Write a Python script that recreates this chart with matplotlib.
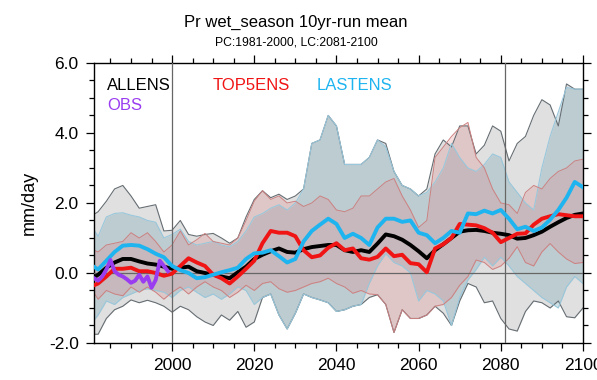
import numpy as np
import matplotlib
matplotlib.use("Agg")
import matplotlib.pyplot as plt
from matplotlib.ticker import MultipleLocator, FormatStrFormatter

plt.rcParams['font.family'] = ['Liberation Sans', 'DejaVu Sans']

# ---- data: 10-yr running mean precipitation anomaly (mm/day) ----
years = list(range(1980, 2101, 2))

allens_mean = [-0.2, -0.05, 0.15, 0.3, 0.4, 0.4, 0.33, 0.27, 0.24, 0.18,
               0.12, 0.15, 0.18, 0.05, 0.0, -0.05, -0.1, -0.15, 0.02, 0.18,
               0.4, 0.52, 0.62, 0.7, 0.6, 0.58, 0.68, 0.74, 0.77, 0.8,
               0.8, 0.65, 0.6, 0.65, 0.6, 0.84, 1.1, 1.05, 0.95, 0.8,
               0.62, 0.42, 0.65, 0.82, 1.0, 1.18, 1.22, 1.23, 1.2, 1.15,
               1.12, 1.08, 0.98, 1.0, 1.08, 1.18, 1.32, 1.45, 1.57, 1.66, 1.7]

top5ens_mean = [-0.4, -0.3, -0.1, 0.12, 0.12, 0.15, 0.05, 0.05, 0.0, -0.08,
                -0.02, 0.2, 0.42, 0.3, 0.2, -0.05, -0.15, -0.3, -0.1, 0.12,
                0.35, 0.85, 1.2, 1.15, 1.15, 1.05, 0.65, 0.45, 0.5, 0.72,
                0.85, 0.65, 0.7, 0.42, 0.38, 0.46, 0.7, 0.48, 0.52, 0.28,
                0.25, 0.02, 0.7, 0.82, 1.0, 1.4, 1.38, 1.36, 1.28, 1.15,
                0.88, 1.0, 1.12, 1.13, 1.38, 1.55, 1.62, 1.68, 1.65, 1.62, 1.62]

lastens_mean = [0.25, 0.1, 0.35, 0.6, 0.78, 0.8, 0.78, 0.68, 0.55, 0.45,
                0.2, 0.08, 0.0, -0.15, -0.12, -0.05, 0.02, 0.08, 0.15, 0.4,
                0.56, 0.58, 0.65, 0.48, 0.3, 0.4, 0.9, 1.2, 1.38, 1.55,
                1.4, 1.0, 1.12, 1.0, 0.8, 1.3, 1.55, 1.55, 1.46, 1.5,
                1.15, 1.08, 0.85, 1.0, 1.2, 1.15, 1.7, 1.68, 1.78, 1.7,
                1.8, 1.55, 1.25, 1.32, 1.2, 1.3, 1.52, 1.8, 2.15, 2.6, 2.45]

# ensemble spread (min / max)
allens_hi = [1.6, 1.75, 2.05, 2.4, 2.5, 2.2, 1.85, 1.9, 1.95, 1.2,
             1.22, 1.5, 1.1, 1.05, 1.1, 1.13, 1.0, 0.85, 1.0, 1.6,
             2.1, 2.35, 2.15, 2.25, 2.1, 2.2, 2.4, 3.7, 3.8, 4.5,
             4.2, 3.1, 3.1, 3.1, 3.3, 3.8, 3.7, 2.9, 2.5, 2.4,
             2.2, 2.4, 3.4, 3.8, 3.6, 4.2, 4.2, 3.4, 3.65, 4.2,
             4.05, 3.2, 3.7, 3.9, 4.5, 4.95, 4.8, 4.2, 5.4, 5.25, 5.25]
allens_lo = [-1.75, -1.75, -1.3, -1.05, -0.95, -0.77, -0.85, -0.78, -0.85, -0.95,
             -1.12, -0.95, -1.05, -1.25, -1.4, -1.5, -1.2, -1.35, -1.1, -1.55,
             -1.4, -0.7, -0.6, -1.2, -1.6, -1.15, -0.6, -0.7, -0.77, -0.85,
             -1.1, -1.05, -0.95, -0.9, -0.7, -0.62, -0.9, -1.7, -1.05, -1.3,
             -1.3, -1.2, -0.95, -1.15, -1.5, -0.8, -0.3, -0.4, -0.85, -0.8,
             -1.3, -1.6, -1.66, -1.1, -0.8, -0.85, -1.0, -0.8, -1.25, -1.28, -1.0]

top5ens_hi = [0.7, 0.6, 0.8, 0.85, 0.9, 1.15, 1.0, 1.15, 0.9, 0.6,
              0.8, 1.2, 0.8, 0.95, 1.13, 0.9, 0.85, 0.8, 1.0, 1.5,
              2.05, 2.35, 2.1, 2.2, 2.0, 2.05, 1.9, 2.0, 2.2, 2.1,
              1.8, 1.75, 1.85, 2.2, 2.2, 2.4, 2.6, 2.7, 2.2, 1.8,
              1.3, 1.5, 3.3, 3.6, 3.9, 4.15, 4.3, 3.3, 3.0, 2.4,
              2.0, 1.95, 1.7, 2.3, 2.5, 2.4, 2.7, 2.9, 3.0, 3.2, 3.25]
top5ens_lo = [-0.4, -0.75, -0.5, -0.6, -0.65, -0.4, -0.55, -0.4, -0.55, -0.75,
              -0.55, -0.4, -0.6, -0.4, -0.25, -0.4, -0.5, -0.7, -0.55, -0.35,
              -0.5, -0.3, -0.25, -0.45, -0.55, -0.5, -0.4, -0.3, -0.25, -0.15,
              -0.3, -0.4, -0.58, -0.5, -0.6, -0.62, -0.9, -1.7, -1.05, -1.3,
              -1.3, -1.2, -0.95, -0.9, -0.7, -0.35, -0.1, 0.37, 0.3, 0.1,
              0.2, 0.42, 0.75, 0.3, 0.2, 0.6, 0.84, 0.6, 0.4, 0.27, 0.3]

lastens_hi = [1.4, 1.05, 1.6, 1.7, 1.72, 1.65, 1.6, 1.5, 1.45, 1.0,
              1.1, 1.25, 0.9, 0.8, 0.85, 0.9, 0.8, 0.75, 0.9, 1.2,
              1.6, 1.7, 1.85, 1.95, 1.8, 2.0, 2.4, 3.7, 3.8, 4.5,
              4.2, 3.1, 3.1, 3.1, 3.3, 3.8, 3.6, 2.9, 2.5, 2.4,
              2.2, 2.3, 2.6, 3.0, 3.7, 3.3, 3.0, 2.9, 3.1, 3.4,
              3.3, 2.6, 2.3, 2.0, 1.8, 3.0, 3.9, 4.6, 5.3, 5.25, 5.25]
lastens_lo = [-1.5, -1.2, -0.8, -0.9, -0.7, -0.6, -0.5, -0.45, -0.5, -0.55,
              -0.7, -0.5, -0.4, -0.55, -0.7, -0.6, -0.75, -0.6, -0.4, -0.5,
              -0.9, -0.7, -0.6, -1.2, -1.6, -1.15, -0.6, -0.7, -0.77, -0.85,
              -1.1, -1.05, -0.95, -0.9, -0.3, 0.2, 0.55, 0.3, 0.2, 0.0,
              -0.8, -0.5, -0.6, -0.8, -1.5, -0.7, -0.2, 0.1, 0.45, 0.2,
              0.45, 0.2, -0.1, -0.3, -0.5, -0.7, -0.85, -1.0, -0.4, -0.1, -0.3]

obs_years = list(range(1981, 2000))
obs = [-0.15, -0.22, -0.1, 0.1, 0.37, 0.05, -0.05, -0.1, -0.18, -0.28,
       -0.22, -0.05, -0.25, -0.1, -0.42, -0.2, 0.35, 0.2, 0.05]

present_start, late_start = 2000, 2081

# ---- figure ----
fig = plt.figure(figsize=(5.97, 3.80), dpi=100)
ax = fig.add_axes([0.1575, 0.0974, 0.819, 0.737])

# spread envelopes
ax.fill_between(years, allens_lo, allens_hi, color=(0.6, 0.6, 0.6), alpha=0.30, lw=0)
ax.plot(years, allens_hi, color=(0.40, 0.43, 0.45), lw=0.8)
ax.plot(years, allens_lo, color=(0.40, 0.43, 0.45), lw=0.8)

ax.fill_between(years, lastens_lo, lastens_hi, color=(0.43, 0.63, 0.69), alpha=0.30, lw=0)
ax.plot(years, lastens_hi, color=(0.60, 0.78, 0.86), lw=0.8)
ax.plot(years, lastens_lo, color=(0.60, 0.78, 0.86), lw=0.8)

ax.fill_between(years, top5ens_lo, top5ens_hi, color=(0.89, 0.50, 0.50), alpha=0.25, lw=0)
ax.plot(years, top5ens_hi, color=(0.80, 0.50, 0.50), lw=0.7)
ax.plot(years, top5ens_lo, color=(0.80, 0.50, 0.50), lw=0.7)

# reference lines
ax.axhline(0, color=(0.4, 0.4, 0.4), lw=0.9, zorder=3)
for yr in (present_start, late_start):
    ax.axvline(yr, color=(0.4, 0.4, 0.4), lw=0.9, zorder=3)

# ensemble means and observations
ax.plot(years, allens_mean, color='black', lw=2.8, zorder=5)
ax.plot(years, top5ens_mean, color='#f01414', lw=2.8, zorder=5)
ax.plot(years, lastens_mean, color='#1eb4f0', lw=2.8, zorder=5)
ax.plot(obs_years, obs, color='#9a3cf0', lw=2.8, zorder=6)

ax.set_xlim(1981, 2100)
ax.set_ylim(-2.0, 6.0)
ax.xaxis.set_major_locator(MultipleLocator(20))
ax.xaxis.set_minor_locator(MultipleLocator(5))
ax.yaxis.set_major_locator(MultipleLocator(2))
ax.yaxis.set_minor_locator(MultipleLocator(0.5))
ax.yaxis.set_major_formatter(FormatStrFormatter('%.1f'))
ax.tick_params(which='both', direction='out', top=True, right=True, width=0.9)
ax.tick_params(which='major', length=6, labelsize=12.5, pad=5)
ax.tick_params(which='minor', length=3.5)
for s in ax.spines.values():
    s.set_linewidth(1.0)

ax.set_ylabel('mm/day', fontsize=13, labelpad=8)

# legend labels
ax.text(0.027, 0.919, 'ALLENS', color='black', fontsize=12, transform=ax.transAxes, va='center')
ax.text(0.243, 0.919, 'TOP5ENS', color='#f01414', fontsize=12, transform=ax.transAxes, va='center')
ax.text(0.456, 0.919, 'LASTENS', color='#1eb4f0', fontsize=12, transform=ax.transAxes, va='center')
ax.text(0.027, 0.848, 'OBS', color='#9a3cf0', fontsize=12, transform=ax.transAxes, va='center')

fig.text(0.496, 0.942, 'Pr wet_season 10yr-run mean', ha='center', va='center', fontsize=12)
fig.text(0.496, 0.889, 'PC:1981-2000, LC:2081-2100', ha='center', va='center', fontsize=8.7)

fig.savefig('out.png', dpi=100)
